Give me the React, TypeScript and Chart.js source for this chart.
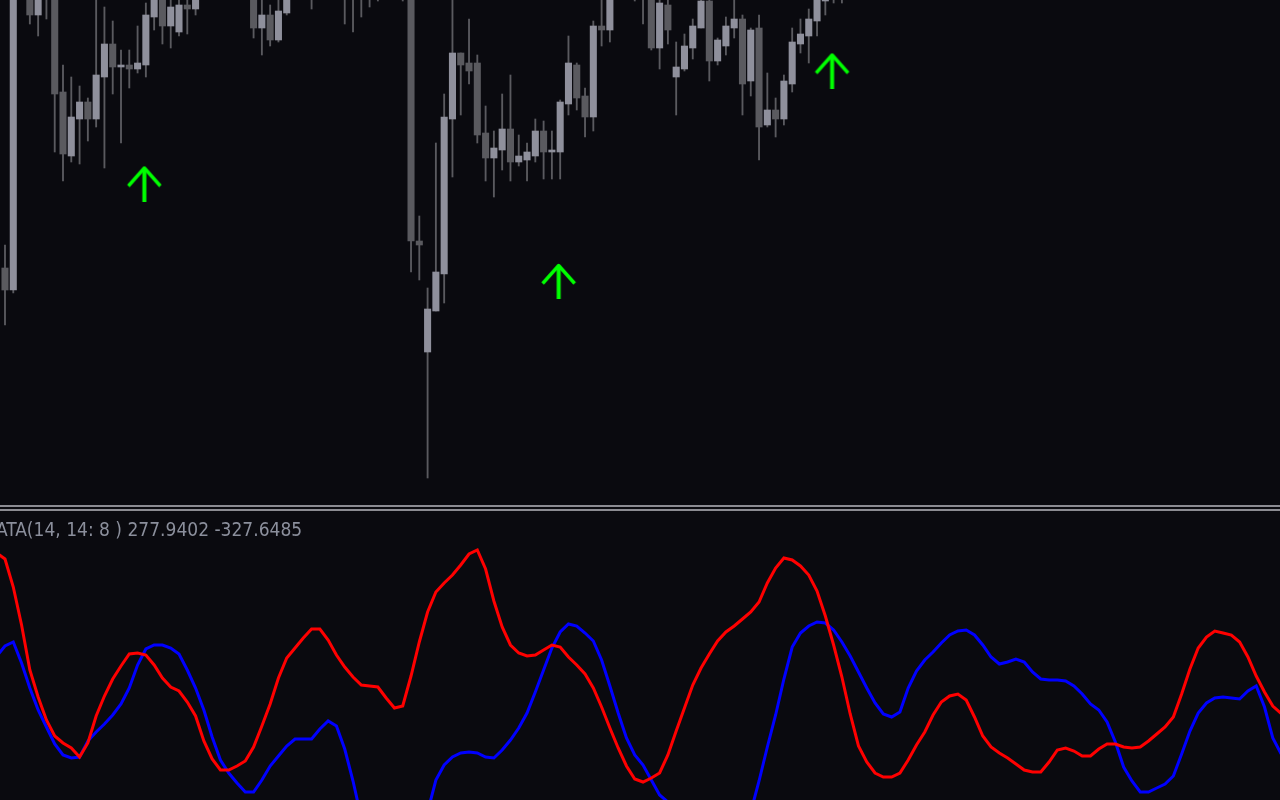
import { useEffect, useRef } from "react";
import { Chart, registerables } from "chart.js";

Chart.register(...registerables);

// ---- palette ----
const BACKGROUND = "#0a0a0f";
const BULL_BODY = "#8f909c";
const BEAR_BODY = "#5a5a5f";
const WICK = "#5a5a5f";
const SEPARATOR = "#8c8c92";
const SIGNAL_GREEN = "#00ff00";
const RED_LINE = "#ff0000";
const BLUE_LINE = "#0000ff";
const LABEL_COLOR = "#8b8f9c";

// ---- price bars (bar index 0..101) ----
const candleOpen = [
  732, 710, 1012, 1010, 985, 1006, 1004, 908, 844, 881,
  898, 881, 923, 956, 933, 935, 931, 935, 983, 1004,
  974, 968, 995, 991, 1003, 1012, 1020, 1014, 1024, 1016,
  1008, 972, 985, 960, 987, 1004, 1014, 1006, 1002, 1012,
  1020, 1014, 1003, 1010, 1004, 1012, 1018, 1010, 1006, 1003,
  759, 648, 689, 726, 881, 947, 937, 937, 867, 842,
  850, 871, 838, 840, 844, 869, 848, 848, 896, 935,
  904, 883, 974, 970, 1003, 1012, 1006, 1003, 1002, 952,
  995, 923, 931, 952, 972, 999, 939, 954, 972, 981,
  919, 972, 875, 890, 881, 916, 956, 964, 979, 999,
  1006, 1012,
];
const candleHigh = [
  755, 1016, 1024, 1018, 1012, 1015, 1008, 935, 923, 914,
  902, 1001, 993, 979, 950, 950, 974, 997, 1008, 1010,
  1001, 1002, 1001, 1006, 1018, 1026, 1025, 1030, 1028, 1019,
  1012, 1003, 995, 1001, 1009, 1020, 1018, 1012, 1016, 1026,
  1024, 1018, 1016, 1014, 1018, 1024, 1022, 1014, 1012, 1008,
  784, 712, 857, 906, 1002, 947, 981, 945, 894, 869,
  906, 925, 865, 857, 881, 879, 869, 900, 964, 937,
  912, 979, 1001, 1008, 1018, 1016, 1010, 1008, 1006, 1001,
  1002, 958, 966, 981, 1003, 1002, 962, 983, 1001, 985,
  972, 985, 927, 902, 925, 972, 981, 991, 1006, 1012,
  1018, 1022,
];
const candleLow = [
  675, 707, 1006, 976, 964, 981, 848, 819, 838, 836,
  859, 873, 832, 906, 857, 912, 927, 923, 970, 956,
  952, 964, 966, 985, 1001, 1008, 1010, 1011, 1012, 1003,
  962, 945, 954, 958, 985, 1002, 1003, 991, 1001, 1009,
  1006, 976, 968, 983, 993, 999, 1004, 1002, 999, 728,
  720, 522, 689, 697, 823, 885, 916, 857, 819, 803,
  830, 819, 834, 819, 838, 821, 821, 821, 885, 890,
  863, 869, 954, 958, 1001, 1002, 999, 976, 950, 931,
  956, 885, 929, 941, 972, 919, 935, 945, 962, 885,
  904, 840, 873, 863, 875, 908, 947, 937, 964, 985,
  997, 997,
];
const candleClose = [
  710, 1012, 1010, 985, 1005, 1004, 906, 846, 883, 898,
  881, 925, 956, 933, 935, 931, 937, 985, 1003, 974,
  993, 995, 991, 1002, 1012, 1020, 1014, 1024, 1016, 1008,
  972, 985, 960, 989, 1004, 1014, 1006, 1002, 1012, 1020,
  1014, 1003, 1010, 1004, 1012, 1018, 1010, 1006, 1003, 759,
  755, 691, 728, 883, 947, 935, 929, 865, 842, 852,
  871, 838, 844, 848, 869, 848, 850, 898, 937, 902,
  883, 974, 970, 1003, 1012, 1006, 1003, 1001, 952, 997,
  970, 933, 954, 974, 999, 939, 960, 974, 981, 916,
  970, 873, 890, 881, 919, 958, 966, 981, 1002, 1006,
  1012, 1018,
];

// ---- buy signals ----
const signalBars = [17, 67, 100];
const signalPrices = [816.5, 719, 929.5];

// ---- oscillator (bar index -1..154) ----
const oscillatorFirstBar = -1;
const redLine = [
  2685,
  2595, 2175, 1605, 930, 525, 180, -60, -165, -240, -375,
  -165, 240, 540, 795, 990, 1170, 1185, 1155, 1005, 810,
  675, 615, 450, 240, -135, -405, -570, -570, -510, -435,
  -225, 90, 420, 810, 1110, 1260, 1410, 1545, 1545, 1380,
  1155, 975, 825, 705, 690, 675, 510, 360, 390, 840,
  1350, 1800, 2100, 2235, 2355, 2505, 2670, 2730, 2445, 1965,
  1575, 1305, 1185, 1140, 1155, 1230, 1305, 1275, 1125, 1005,
  870, 660, 375, 60, -240, -510, -705, -750, -690, -615,
  -345, 15, 360, 705, 960, 1170, 1365, 1500, 1590, 1695,
  1800, 1950, 2235, 2460, 2610, 2580, 2490, 2355, 2115, 1740,
  1305, 825, 270, -210, -450, -615, -675, -675, -615, -420,
  -195, 0, 255, 450, 540, 570, 480, 225, -60, -225,
  -315, -390, -480, -570, -600, -600, -450, -270, -240, -285,
  -360, -360, -255, -180, -180, -225, -240, -225, -135, -30,
  75, 225, 570, 945, 1260, 1425, 1515, 1485, 1455, 1350,
  1125, 840, 600, 390, 277.9402,
];
const blueLine = [
  1140,
  1290, 1350, 1035, 660, 330, 75, -180, -345, -390, -375,
  -135, 0, 120, 255, 420, 660, 1005, 1245, 1305, 1305,
  1260, 1170, 930, 660, 330, -75, -420, -615, -765, -900,
  -900, -720, -510, -360, -210, -105, -105, -105, 45, 165,
  90, -255, -735, -1290, -1650, -1860, -1950, -1950, -1860, -1695,
  -1470, -1200, -720, -495, -375, -315, -300, -315, -375, -390,
  -270, -120, 60, 285, 600, 930, 1260, 1500, 1620, 1590,
  1485, 1365, 1080, 690, 285, -90, -345, -495, -720, -945,
  -1050, -1170, -1290, -1380, -1440, -1470, -1470, -1440, -1395, -1320,
  -1200, -735, -225, 255, 795, 1275, 1485, 1590, 1650, 1635,
  1530, 1350, 1140, 900, 660, 435, 270, 225, 300, 660,
  915, 1080, 1200, 1335, 1455, 1515, 1530, 1455, 1305, 1125,
  1020, 1050, 1095, 1050, 900, 795, 780, 780, 765, 690,
  570, 420, 330, 150, -150, -525, -735, -900, -900, -840,
  -780, -660, -330, 15, 285, 435, 510, 525, 510, 495,
  615, 690, 375, -90, -327.6485,
];
const oscillatorName = "ATA(14, 14: 8 )";

// visible bar window shared by both panes
const BAR_MIN = -0.603;
const BAR_MAX = 153.87;

function makeArrowGlyph(): HTMLCanvasElement {
  const c = document.createElement("canvas");
  c.width = 40;
  c.height = 36;
  const g = c.getContext("2d")!;
  g.strokeStyle = SIGNAL_GREEN;
  g.fillStyle = SIGNAL_GREEN;
  g.lineWidth = 3.4;
  g.lineJoin = "round";
  g.lineCap = "butt";
  g.beginPath();
  g.moveTo(2.5, 20.5);
  g.lineTo(18.5, 2.5);
  g.lineTo(34.5, 20.5);
  g.stroke();
  g.fillRect(16.5, 3, 4, 33);
  return c;
}

const baseOptions = {
  animation: false as const,
  responsive: false,
  events: [] as any[],
  layout: { padding: 0, autoPadding: false },
  plugins: { legend: { display: false }, tooltip: { enabled: false } },
};

function PricePane() {
  const ref = useRef<HTMLCanvasElement>(null);
  useEffect(() => {
    const idx = candleOpen.map((_, i) => i);
    const chart = new Chart(ref.current!, {
      type: "bar",
      data: {
        datasets: [
          {
            type: "line",
            data: signalBars.map((b, k) => ({ x: b, y: signalPrices[k] })),
            showLine: false,
            pointStyle: makeArrowGlyph(),
            pointRadius: 18,
            order: 0,
          } as any,
          {
            type: "bar",
            data: idx.map((i) => ({ x: i, y: [candleOpen[i], candleClose[i]] })),
            backgroundColor: idx.map((i) => (candleClose[i] >= candleOpen[i] ? BULL_BODY : BEAR_BODY)),
            barThickness: 6.4,
            grouped: false,
            borderWidth: 0,
            order: 1,
          } as any,
          {
            type: "bar",
            data: idx.map((i) => ({ x: i, y: [candleLow[i], candleHigh[i]] })),
            backgroundColor: WICK,
            barThickness: 1.2,
            grouped: false,
            borderWidth: 0,
            order: 2,
          } as any,
        ],
      },
      options: {
        ...baseOptions,
        scales: {
          x: { type: "linear", min: BAR_MIN, max: BAR_MAX, offset: false, display: false },
          y: { type: "linear", min: 495, max: 1000, display: false },
        },
      } as any,
    });
    return () => chart.destroy();
  }, []);
  return <canvas ref={ref} width={1280} height={505} style={{ display: "block" }} />;
}

const labelPlugin = {
  id: "oscillatorLabel",
  afterDraw(chart: any) {
    const ctx = chart.ctx as CanvasRenderingContext2D;
    const last = redLine.length - 1;
    const text = `${oscillatorName} ${redLine[last].toFixed(4)} ${blueLine[last].toFixed(4)}`;
    ctx.save();
    ctx.font = '19px "DejaVu Sans Condensed", "DejaVu Sans", sans-serif';
    ctx.fillStyle = LABEL_COLOR;
    ctx.textBaseline = "alphabetic";
    ctx.textAlign = "left";
    ctx.fillText(text, -4, 25);
    ctx.restore();
  },
};

function OscillatorPane() {
  const ref = useRef<HTMLCanvasElement>(null);
  useEffect(() => {
    const toPoints = (vals: number[]) => vals.map((v, k) => ({ x: oscillatorFirstBar + k, y: v }));
    const chart = new Chart(ref.current!, {
      type: "line",
      data: {
        datasets: [
          {
            data: toPoints(redLine),
            borderColor: RED_LINE,
            borderWidth: 3,
            pointRadius: 0,
            tension: 0,
            fill: false,
          },
          {
            data: toPoints(blueLine),
            borderColor: BLUE_LINE,
            borderWidth: 3,
            pointRadius: 0,
            tension: 0,
            fill: false,
          },
        ],
      },
      options: {
        ...baseOptions,
        scales: {
          x: { type: "linear", min: BAR_MIN, max: BAR_MAX, display: false },
          y: { type: "linear", min: -1020, max: 3315, display: false },
        },
      } as any,
      plugins: [labelPlugin],
    });
    return () => chart.destroy();
  }, []);
  return <canvas ref={ref} width={1280} height={289} style={{ display: "block" }} />;
}

export default function App() {
  return (
    <div
      style={{
        position: "fixed",
        left: 0,
        top: 0,
        width: 1280,
        height: 800,
        background: BACKGROUND,
        overflow: "hidden",
      }}
    >
      <div style={{ position: "absolute", left: 0, top: 0 }}>
        <PricePane />
      </div>
      <div style={{ position: "absolute", left: 0, top: 505, width: 1280, height: 2, background: SEPARATOR }} />
      <div style={{ position: "absolute", left: 0, top: 509, width: 1280, height: 2, background: SEPARATOR }} />
      <div style={{ position: "absolute", left: 0, top: 511 }}>
        <OscillatorPane />
      </div>
    </div>
  );
}
